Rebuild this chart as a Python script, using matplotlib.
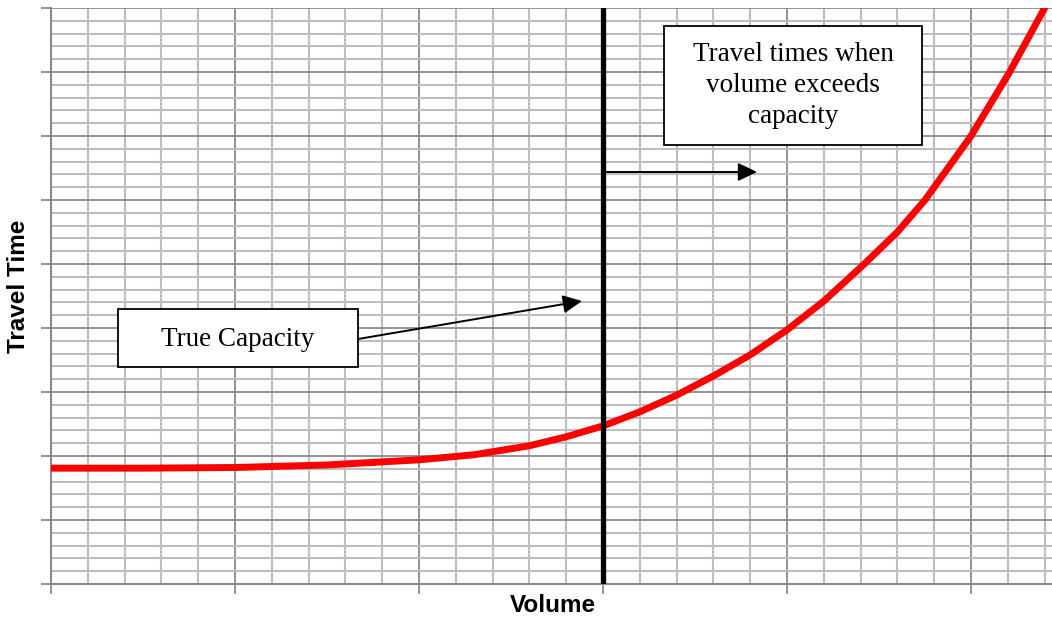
import matplotlib
matplotlib.use("Agg")
import matplotlib.pyplot as plt
from matplotlib.patches import Rectangle
from matplotlib.ticker import MultipleLocator

# travel time curve (volume, travel time)
volume = [0.0, 0.5, 1.0, 1.5, 2.0, 2.3, 2.6, 2.8, 3.0, 3.2, 3.4, 3.6, 3.8,
          4.0, 4.2, 4.42, 4.6, 4.75, 5.0, 5.21, 5.4, 5.45]
travel_time = [1.81, 1.81, 1.82, 1.86, 1.94, 2.02, 2.16, 2.30, 2.47, 2.69, 2.95,
               3.25, 3.58, 3.97, 4.42, 5.0, 5.5, 6.0, 7.0, 8.0, 9.0, 9.27]
capacity = 3.0

label_capacity = "True Capacity"
label_exceed = "Travel times when\nvolume exceeds\ncapacity"

W, H = 1052, 622
fig = plt.figure(figsize=(W / 100, H / 100), dpi=100)
ax = fig.add_axes([51 / W, (H - 584) / H, (W - 51) / W, (584 - 8) / H])

xmax = (W - 51) / 184
ax.set_xlim(0, xmax)
ax.set_ylim(0, 9)

ax.xaxis.set_major_locator(MultipleLocator(1))
ax.xaxis.set_minor_locator(MultipleLocator(0.2))
ax.yaxis.set_major_locator(MultipleLocator(1))
ax.yaxis.set_minor_locator(MultipleLocator(0.2))
ax.grid(which="minor", color="#bdbdbd", lw=1.5, zorder=0)
ax.grid(which="major", color="#8a8a8a", lw=1.3, zorder=0)
ax.set_axisbelow(True)
ax.tick_params(which="major", length=7, width=1.3, color="#8a8a8a",
               labelleft=False, labelbottom=False, direction="out")
ax.tick_params(which="minor", length=0)
for s in ["top", "right"]:
    ax.spines[s].set_visible(False)
for s in ["left", "bottom"]:
    ax.spines[s].set_color("#8a8a8a")
    ax.spines[s].set_linewidth(1.5)

ax.plot(volume, travel_time, color="#ff0000", lw=5, solid_capstyle="butt",
        solid_joinstyle="round", zorder=3)
ax.axvline(capacity, color="black", lw=3.8, zorder=4)


def px(x, y):
    return (x - 51) / 184, (584 - y) / 64


serif = "Liberation Serif"
arrow = dict(arrowstyle="-|>,head_length=1.15,head_width=0.55",
             mutation_scale=10, color="black", lw=1.4, shrinkA=0, shrinkB=0)

# box: travel times when volume exceeds capacity
x0, y0 = px(664, 145)
x1, y1 = px(922, 26)
ax.add_patch(Rectangle((x0, y0), x1 - x0, y1 - y0, facecolor="white",
                       edgecolor="black", lw=1.3, zorder=5))
ax.text((x0 + x1) / 2, (y0 + y1) / 2, label_exceed, ha="center", va="center",
        family=serif, fontsize=19.5, linespacing=1.32, zorder=6)
ax.annotate("", xy=px(757, 172), xytext=px(604, 172), arrowprops=arrow,
            zorder=6)

# box: true capacity
x0, y0 = px(118, 367)
x1, y1 = px(358, 309)
ax.add_patch(Rectangle((x0, y0), x1 - x0, y1 - y0, facecolor="white",
                       edgecolor="black", lw=1.3, zorder=5))
ax.text((x0 + x1) / 2, (y0 + y1) / 2 - 0.02, label_capacity, ha="center",
        va="center", family=serif, fontsize=19.5, zorder=6)
ax.annotate("", xy=px(582, 301), xytext=px(358, 339), arrowprops=arrow,
            zorder=6)

fig.text(19 / W, 1 - 286 / H, "Travel Time", rotation=90, ha="center",
         va="center", family="Liberation Sans", fontweight="bold", fontsize=17.5)
fig.text(553 / W, 1 - 606 / H, "Volume", ha="center", va="center",
         family="Liberation Sans", fontweight="bold", fontsize=17.5)

fig.savefig("out.png", dpi=100)
